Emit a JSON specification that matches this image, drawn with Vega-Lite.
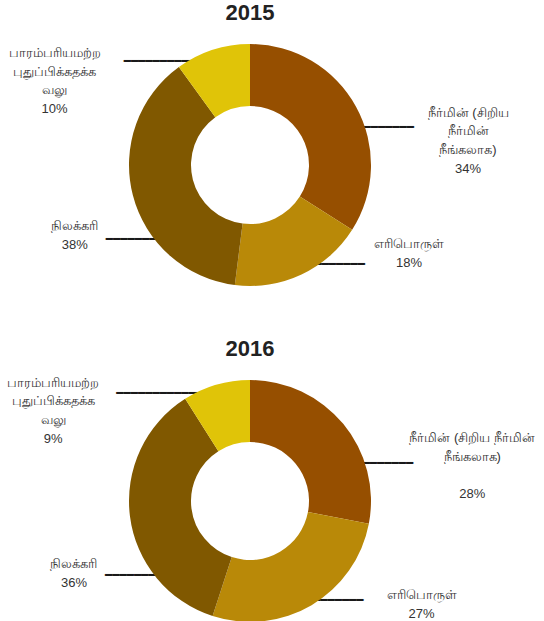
{
  "$schema": "https://vega.github.io/schema/vega-lite/v6.json",
  "padding": {"top": 2, "left": 0, "right": 0, "bottom": 0},
  "background": "white",
  "config": {"view": {"stroke": null}, "font": "Liberation Sans"},
  "datasets": {
    "d": [
      {"year": 2015, "rank": 1, "cat": "நீர்மின் (சிறிய நீர்மின் நீங்கலாக)", "value": 34, "label": "நீர்மின்  (சிறிய\nநீர்மின்\nநீங்கலாக)\n34%"},
      {"year": 2015, "rank": 2, "cat": "எரிபொருள்", "value": 18, "label": "எரிபொருள்\n18%"},
      {"year": 2015, "rank": 3, "cat": "நிலக்கரி", "value": 38, "label": "நிலக்கரி\n38%"},
      {"year": 2015, "rank": 4, "cat": "பாரம்பரியமற்ற புதுப்பிக்கதக்க வலு", "value": 10, "label": "பாரம்பரியமற்ற\nபுதுப்பிக்கதக்க\nவலு\n10%"},
      {"year": 2016, "rank": 1, "cat": "நீர்மின் (சிறிய நீர்மின் நீங்கலாக)", "value": 28, "label": "நீர்மின் (சிறிய நீர்மின்\nநீங்கலாக)\n\u2800\n28%"},
      {"year": 2016, "rank": 2, "cat": "எரிபொருள்", "value": 27, "label": "எரிபொருள்\n27%"},
      {"year": 2016, "rank": 3, "cat": "நிலக்கரி", "value": 36, "label": "நிலக்கரி\n36%"},
      {"year": 2016, "rank": 4, "cat": "பாரம்பரியமற்ற புதுப்பிக்கதக்க வலு", "value": 9, "label": "பாரம்பரியமற்ற\nபுதுப்பிக்கதக்க\nவலு\n9%"}
    ]
  },
  "spacing": 43,
  "vconcat": [
    {
      "data": {"name": "d"},
      "transform": [{"filter": "datum.year == 2015"}],
      "width": 500,
      "height": 260,
      "title": {"text": "2015", "fontSize": 22, "fontWeight": "bold", "font": "Liberation Sans", "anchor": "middle", "offset": 10, "color": "#222222"},
      "encoding": {
        "theta": {"field": "value", "type": "quantitative", "stack": true},
        "order": {"field": "rank", "type": "quantitative"},
        "detail": {"field": "cat", "type": "nominal"}
      },
      "layer": [
        {
          "mark": {"type": "text", "radius": 121, "fontSize": 12, "font": "DejaVu Sans", "color": "#1a1a1a", "baseline": "middle", "align": "center",
            "dx": {"expr": "datum.rank == 1 ? 11 : datum.rank == 2 ? 16.5 : datum.rank == 3 ? 20 : -42"},
            "dy": {"expr": "datum.rank == 1 ? 20 : datum.rank == 2 ? -10 : datum.rank == 3 ? 44 : 11"}},
          "encoding": {"text": {"value": "━━━━━━━━━━━━━"}}
        },
        {
          "mark": {"type": "arc", "outerRadius": 121, "innerRadius": 59},
          "encoding": {
            "color": {"field": "cat", "type": "nominal", "legend": null,
              "scale": {"domain": ["நீர்மின் (சிறிய நீர்மின் நீங்கலாக)", "எரிபொருள்", "நிலக்கரி", "பாரம்பரியமற்ற புதுப்பிக்கதக்க வலு"],
                        "range": ["#964f00", "#b98908", "#805800", "#e0c408"]}}
          }
        },
        {
          "mark": {"type": "text", "radius": 121, "fontSize": 13, "lineBreak": "\n", "lineHeight": 18.7, "baseline": "top", "align": "center", "color": "#333333",
            "dx": {"expr": "datum.rank == 1 ? 112 : datum.rank == 2 ? 107.5 : datum.rank == 3 ? -58 : -158"},
            "dy": {"expr": "datum.rank == 1 ? 0 : datum.rank == 2 ? -36 : datum.rank == 3 ? 25 : -3"}},
          "encoding": {"text": {"field": "label", "type": "nominal"}}
        }
      ]
    },
    {
      "data": {"name": "d"},
      "transform": [{"filter": "datum.year == 2016"}],
      "width": 500,
      "height": 260,
      "title": {"text": "2016", "fontSize": 22, "fontWeight": "bold", "font": "Liberation Sans", "anchor": "middle", "offset": 10, "color": "#222222"},
      "encoding": {
        "theta": {"field": "value", "type": "quantitative", "stack": true},
        "order": {"field": "rank", "type": "quantitative"},
        "detail": {"field": "cat", "type": "nominal"}
      },
      "layer": [
        {
          "mark": {"type": "text", "radius": 121, "fontSize": 12, "font": "DejaVu Sans", "color": "#1a1a1a", "baseline": "middle", "align": "center",
            "dx": {"expr": "datum.rank == 1 ? 23 : datum.rank == 2 ? 5 : datum.rank == 3 ? 22 : -53"},
            "dy": {"expr": "datum.rank == 1 ? 39 : datum.rank == 2 ? -5 : datum.rank == 3 ? 59 : 8"}},
          "encoding": {"text": {"value": "━━━━━━━━━━━━━"}}
        },
        {
          "mark": {"type": "arc", "outerRadius": 121, "innerRadius": 59},
          "encoding": {
            "color": {"field": "cat", "type": "nominal", "legend": null,
              "scale": {"domain": ["நீர்மின் (சிறிய நீர்மின் நீங்கலாக)", "எரிபொருள்", "நிலக்கரி", "பாரம்பரியமற்ற புதுப்பிக்கதக்க வலு"],
                        "range": ["#964f00", "#b98908", "#805800", "#e0c408"]}}
          }
        },
        {
          "mark": {"type": "text", "radius": 121, "fontSize": 13, "lineBreak": "\n", "lineHeight": 18.7, "baseline": "top", "align": "center", "color": "#333333",
            "dx": {"expr": "datum.rank == 1 ? 129 : datum.rank == 2 ? 110 : datum.rank == 3 ? -56 : -163"},
            "dy": {"expr": "datum.rank == 1 ? 8 : datum.rank == 2 ? -16 : datum.rank == 3 ? 42 : -8"}},
          "encoding": {"text": {"field": "label", "type": "nominal"}}
        }
      ]
    }
  ]
}
